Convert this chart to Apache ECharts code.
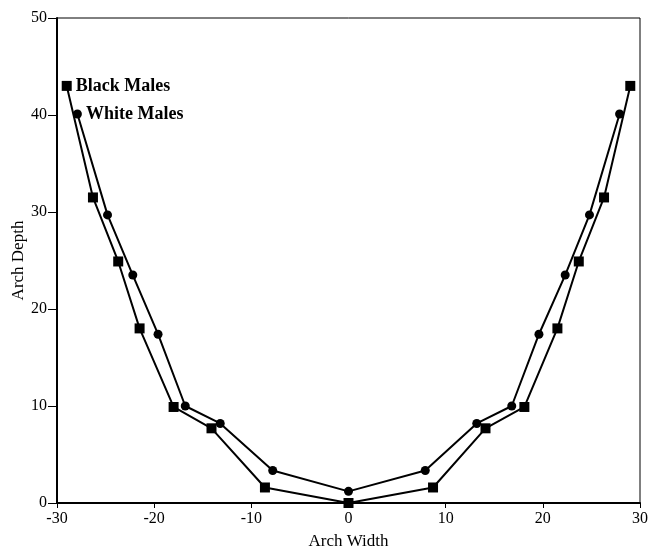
<!DOCTYPE html>
<html><head><meta charset="utf-8">
<script src="https://cdn.jsdelivr.net/npm/echarts@6/dist/echarts.min.js"></script>
<style>html,body{margin:0;padding:0;background:#fff}#c{width:648px;height:547px}</style>
</head><body><div id="c"></div>
<script>
const blackX = [-29, -26.3, -23.7, -21.5, -18, -14.1, -8.6, 0, 8.7, 14.1, 18.1, 21.5, 23.7, 26.3, 29];
const blackY = [43, 31.5, 24.9, 18, 9.9, 7.7, 1.6, 0, 1.6, 7.7, 9.9, 18, 24.9, 31.5, 43];
const whiteX = [-27.9, -24.8, -22.2, -19.6, -16.8, -13.2, -7.8, 0, 7.9, 13.2, 16.8, 19.6, 22.3, 24.8, 27.9];
const whiteY = [40.1, 29.7, 23.5, 17.4, 10, 8.2, 3.35, 1.2, 3.35, 8.2, 10, 17.4, 23.5, 29.7, 40.1];
const seriesNames = ['Black Males', 'White Males'];
const xTicks = [-30, -20, -10, 0, 10, 20, 30];
const yTicks = [0, 10, 20, 30, 40, 50];

const font = 'Liberation Serif';
function mkData(xs, ys, name) {
  return xs.map((x, i) => {
    const d = { value: [x, ys[i]] };
    if (i === 0) {
      d.label = { show: true, position: 'right', distance: 4, formatter: name,
        fontFamily: font, fontWeight: 'bold', fontSize: 18, color: '#000' };
    }
    return d;
  });
}
const chart = echarts.init(document.getElementById('c'));
chart.setOption({
  animation: false,
  grid: { left: 57, right: 8, top: 18, bottom: 44, show: true, borderColor: '#000', borderWidth: 1,
          containLabel: false, outerBoundsMode: 'none' },
  xAxis: {
    type: 'value', min: xTicks[0], max: xTicks[xTicks.length - 1], interval: 10,
    name: 'Arch Width', nameLocation: 'middle', nameGap: 30, nameMoveOverlap: false,
    nameTextStyle: { fontFamily: font, fontSize: 17, color: '#000' },
    axisLine: { lineStyle: { color: '#000', width: 2 } },
    axisTick: { show: true, length: 5, lineStyle: { color: '#000' } },
    axisLabel: { fontFamily: font, fontSize: 16, color: '#000', margin: 8 },
    splitLine: { show: false }
  },
  yAxis: {
    type: 'value', min: yTicks[0], max: yTicks[yTicks.length - 1], interval: 10,
    name: 'Arch Depth', nameLocation: 'middle', nameGap: 30, nameMoveOverlap: false,
    nameTextStyle: { fontFamily: font, fontSize: 17, color: '#000' },
    axisLine: { show: true, onZero: false, lineStyle: { color: '#000', width: 2 } },
    axisTick: { show: true, length: 9, lineStyle: { color: '#000' } },
    axisLabel: { fontFamily: font, fontSize: 16, color: '#000', margin: 10 },
    splitLine: { show: false }
  },
  series: [
    { name: seriesNames[0], type: 'line', data: mkData(blackX, blackY, seriesNames[0]),
      symbol: 'rect', symbolSize: 10, lineStyle: { color: '#000', width: 2 },
      itemStyle: { color: '#000' } },
    { name: seriesNames[1], type: 'line', data: mkData(whiteX, whiteY, seriesNames[1]),
      symbol: 'circle', symbolSize: 9, lineStyle: { color: '#000', width: 2 },
      itemStyle: { color: '#000' } }
  ]
});
</script></body></html>
